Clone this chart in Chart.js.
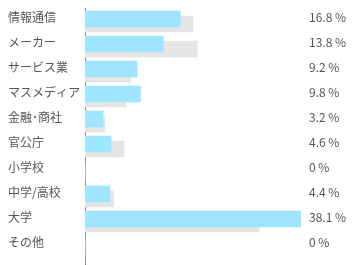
<!DOCTYPE html>
<html>
<head>
<meta charset="utf-8">
<script src="https://cdn.jsdelivr.net/npm/chart.js@4/dist/chart.umd.min.js"></script>
<style>
html,body{margin:0;padding:0;background:#fff;}
#wrap{width:356px;height:265px;position:relative;}
</style>
</head>
<body>
<div id="wrap"><canvas id="c" width="356" height="265"></canvas></div>
<script>
const categories = ['情報通信','メーカー','サービス業','マスメディア','金融･商社','官公庁','小学校','中学/高校','大学','その他'];
const currentValues = [16.8, 13.8, 9.2, 9.8, 3.2, 4.6, 0, 4.4, 38.1, 0];
const previousValues = [19.0, 19.8, 8.1, 7.2, 3.5, 6.9, 0, 5.1, 30.7, 0];
const valueLabels = ['16.8 %','13.8 %','9.2 %','9.8 %','3.2 %','4.6 %','0 %','4.4 %','38.1 %','0 %'];

const font = {family: '"Noto Sans CJK JP", "Noto Sans", sans-serif', size: 12};
const textColor = '#555555';
const n = categories.length;
const setRowTicks = s => { s.ticks = categories.map((_, i) => ({value: i})); };

new Chart(document.getElementById('c'), {
  type: 'bar',
  data: {
    datasets: [
      {
        data: currentValues.map((v, i) => ({x: v, y: i})),
        backgroundColor: '#a0e5ff',
        yAxisID: 'y',
        barThickness: 16,
        grouped: false
      },
      {
        data: previousValues.map((v, i) => ({x: v, y: i})),
        backgroundColor: '#e5e5e5',
        yAxisID: 'y2',
        barThickness: 16,
        grouped: false
      }
    ]
  },
  options: {
    indexAxis: 'y',
    responsive: false,
    animation: false,
    layout: {padding: {top: 8, left: 8, right: 0, bottom: 0}},
    plugins: {legend: {display: false}, tooltip: {enabled: false}},
    scales: {
      x: {
        type: 'linear',
        display: false,
        bounds: 'data',
        min: 0,
        max: Math.max(...currentValues)
      },
      y: {
        type: 'linear',
        position: 'left',
        reverse: true,
        offset: false,
        bounds: 'data',
        min: -0.44,
        max: n - 0.16,
        z: 1,
        grid: {display: false, drawTicks: false},
        border: {display: true, color: '#888888', width: 1},
        afterBuildTicks: setRowTicks,
        afterFit: s => { s.width = 77; s.paddingTop = 0; s.paddingBottom = 0; },
        ticks: {
          autoSkip: false,
          crossAlign: 'far',
          padding: 0,
          labelOffset: -2,
          color: textColor,
          font: font,
          callback: v => categories[v] ?? ''
        }
      },
      y2: {
        type: 'linear',
        display: false,
        reverse: true,
        offset: false,
        bounds: 'data',
        min: -0.64,
        max: n - 0.36
      },
      yr: {
        type: 'linear',
        position: 'right',
        reverse: true,
        offset: false,
        bounds: 'data',
        min: -0.44,
        max: n - 0.16,
        grid: {display: false, drawTicks: false},
        border: {display: false},
        afterBuildTicks: setRowTicks,
        afterFit: s => { s.width = 55; s.paddingTop = 0; s.paddingBottom = 0; },
        ticks: {
          autoSkip: false,
          padding: 8,
          labelOffset: -2,
          color: textColor,
          font: font,
          callback: v => valueLabels[v] ?? ''
        }
      }
    }
  }
});
</script>
</body>
</html>
